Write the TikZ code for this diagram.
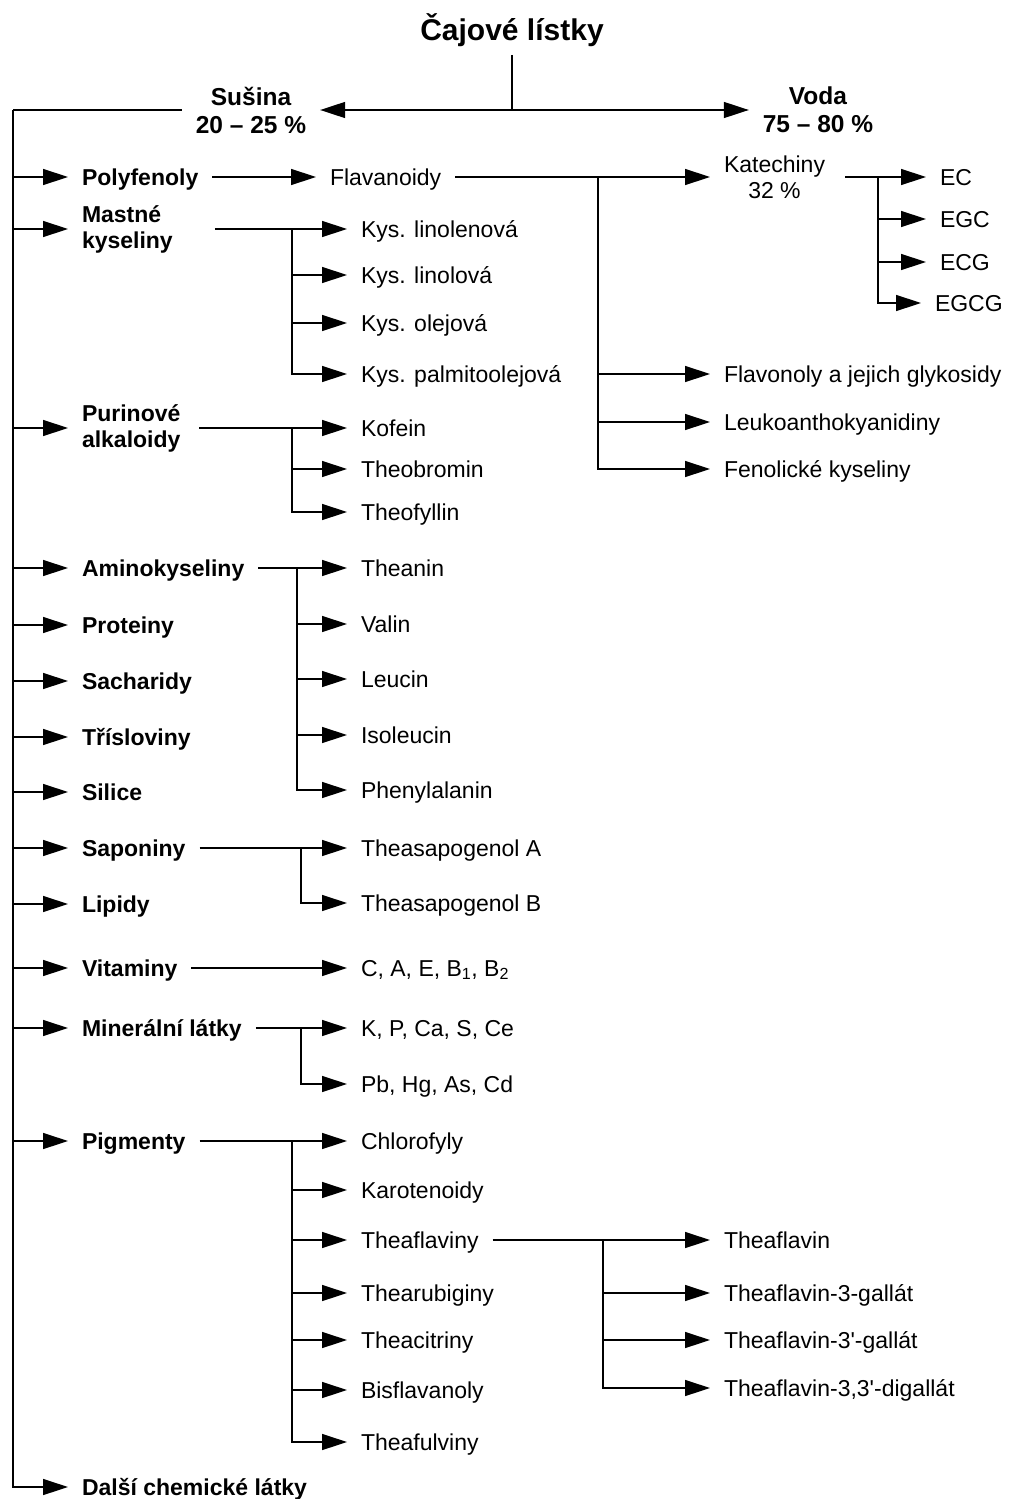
\documentclass[tikz,border=0pt]{standalone}
\usepackage{fontspec}
\setmainfont{Liberation Sans}
\usetikzlibrary{arrows.meta, calc}

\tikzset{
  every node/.style={font=\fontsize{23}{26}\selectfont, inner sep=0pt, outer xsep=14pt,
    text height=16.5pt, text depth=0pt, anchor=west},
  grp/.style={font=\fontsize{23}{26}\selectfont\bfseries},
  twoline/.style={align=left, text height=, text depth=},
  link/.style={line width=1.4pt},
  arr/.style={link, -{Triangle[length=25pt,width=16pt]}},
}

\begin{document}
\begin{tikzpicture}[x=1pt, y=-1pt]
        \useasboundingbox (0,0) rectangle (1015,1499);

        \node[grp, anchor=center, font=\fontsize{30}{34}\selectfont\bfseries, text height=21.5pt, outer ysep=14pt] (title) at (512,30) {Čajové lístky};
        \node[grp, twoline, align=center, anchor=center, font=\fontsize{24.5}{28}\selectfont\bfseries] (susina) at (251,110) {Sušina\\20 -- 25 \%};
        \node[grp, twoline, align=center, anchor=center, font=\fontsize{24.5}{28}\selectfont\bfseries] (voda) at (818,110) {Voda\\75 -- 80 \%};
        \coordinate (split) at (512,110);
        \coordinate (trunk) at (13,110);

        \draw[link] (title.south) -- (split);
        \draw[{Triangle[length=25pt,width=16pt]}-{Triangle[length=25pt,width=16pt]}, link] (susina.east) -- (voda.west);
        \draw[link] (susina.west) -- (trunk);

        % skupiny v susine
        \node[grp] (polyf) at (68,177) {Polyfenoly};
        \node[grp, twoline] (mastne) at (68,229) {Mastné\\kyseliny};
        \node[grp, twoline] (purin) at (68,428) {Purinové\\alkaloidy};
        \node[grp] (amino) at (68,568) {Aminokyseliny};
        \node[grp] (prot) at (68,625) {Proteiny};
        \node[grp] (sach) at (68,681) {Sacharidy};
        \node[grp] (tris) at (68,737) {Třísloviny};
        \node[grp] (silice) at (68,792) {Silice};
        \node[grp] (sapon) at (68,848) {Saponiny};
        \node[grp] (lipid) at (68,904) {Lipidy};
        \node[grp] (vitam) at (68,968) {Vitaminy};
        \node[grp] (miner) at (68,1028) {Minerální látky};
        \node[grp] (pigm) at (68,1141) {Pigmenty};
        \node[grp] (dalsi) at (68,1487) {Další chemické látky};

        \foreach \g in {polyf,mastne,purin,amino,prot,sach,tris,silice,sapon,lipid,vitam,miner,pigm,dalsi}
            \draw[arr] (trunk) |- (\g.west);

        % polyfenoly
        \node (flav) at (316,177) {Flavanoidy};
        \node[twoline, align=center] (kat) at (710,177) {Katechiny\\32 \%};
        \node (ec) at (926,177) {EC};
        \node (egc) at (926,219) {EGC};
        \node (ecg) at (926,262) {ECG};
        \node (egcg) at (921,303) {EGCG};
        \node (flavon) at (710,374) {Flavonoly a jejich glykosidy};
        \node (leuko) at (710,422) {Leukoanthokyanidiny};
        \node (fenol) at (710,469) {Fenolické kyseliny};
        \coordinate (jf) at (598,177);
        \coordinate (jk) at (878,177);

        \draw[arr] (polyf.east) -- (flav.west);
        \draw[arr] (flav.east) -- (kat.west);
        \draw[arr] ([xshift=6pt]kat.east) -- (ec.west);
        \foreach \n in {flavon,leuko,fenol}
            \draw[arr] (jf) |- (\n.west);
        \foreach \n in {egc,ecg,egcg}
            \draw[arr] (jk) |- (\n.west);

        % mastne kyseliny
        \node (kys1) at (347,229) {Kys. linolenová};
        \node (kys2) at (347,275) {Kys. linolová};
        \node (kys3) at (347,323) {Kys. olejová};
        \node (kys4) at (347,374) {Kys. palmitoolejová};
        \coordinate (jm) at (292,229);
        \draw[arr] ([xshift=28pt]mastne.east) -- (kys1.west);
        \foreach \n in {kys2,kys3,kys4}
            \draw[arr] (jm) |- (\n.west);

        % purinove alkaloidy
        \node (kof) at (347,428) {Kofein};
        \node (tbr) at (347,469) {Theobromin};
        \node (tfy) at (347,512) {Theofyllin};
        \coordinate (jp) at (292,428);
        \draw[arr] ([xshift=5pt]purin.east) -- (kof.west);
        \foreach \n in {tbr,tfy}
            \draw[arr] (jp) |- (\n.west);

        % aminokyseliny
        \node (thean) at (347,568) {Theanin};
        \node (valin) at (347,624) {Valin};
        \node (leucin) at (347,679) {Leucin};
        \node (isoleu) at (347,735) {Isoleucin};
        \node (phenyl) at (347,790) {Phenylalanin};
        \coordinate (ja) at (297,568);
        \draw[arr] (amino.east) -- (thean.west);
        \foreach \n in {valin,leucin,isoleu,phenyl}
            \draw[arr] (ja) |- (\n.west);

        % saponiny
        \node (tsa) at (347,848) {Theasapogenol A};
        \node (tsb) at (347,903) {Theasapogenol B};
        \coordinate (js) at (301,848);
        \draw[arr] (sapon.east) -- (tsa.west);
        \draw[arr] (js) |- (tsb.west);

        % vitaminy a mineralni latky
        \node (vit) at (347,968) {C, A, E, B\textsubscript{1}, B\textsubscript{2}};
        \draw[arr] (vitam.east) -- (vit.west);
        \node (min1) at (347,1028) {K, P, Ca, S, Ce};
        \node (min2) at (347,1084) {Pb, Hg, As, Cd};
        \coordinate (jn) at (301,1028);
        \draw[arr] (miner.east) -- (min1.west);
        \draw[arr] (jn) |- (min2.west);

        % pigmenty
        \node (chlor) at (347,1141) {Chlorofyly};
        \node (karot) at (347,1190) {Karotenoidy};
        \node (tfl) at (347,1240) {Theaflaviny};
        \node (tru) at (347,1293) {Thearubiginy};
        \node (tci) at (347,1340) {Theacitriny};
        \node (bisf) at (347,1390) {Bisflavanoly};
        \node (tfu) at (347,1442) {Theafulviny};
        \coordinate (jg) at (292,1141);
        \draw[arr] (pigm.east) -- (chlor.west);
        \foreach \n in {karot,tfl,tru,tci,bisf,tfu}
            \draw[arr] (jg) |- (\n.west);

        % theaflaviny
        \node (tf1) at (710,1240) {Theaflavin};
        \node (tf2) at (710,1293) {Theaflavin-3-gallát};
        \node (tf3) at (710,1340) {Theaflavin-3\textquotesingle-gallát};
        \node (tf4) at (710,1388) {Theaflavin-3,3\textquotesingle-digallát};
        \coordinate (jt) at (603,1240);
        \draw[arr] (tfl.east) -- (tf1.west);
        \foreach \n in {tf2,tf3,tf4}
            \draw[arr] (jt) |- (\n.west);

    \end{tikzpicture}
\end{document}
